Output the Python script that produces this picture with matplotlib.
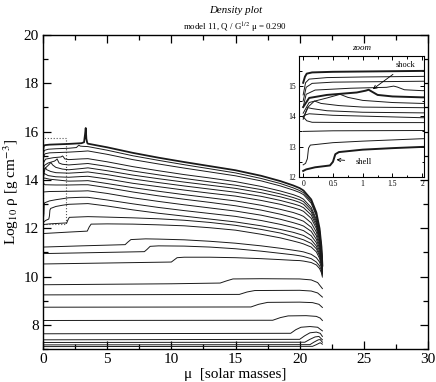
import matplotlib
matplotlib.use("Agg")
import matplotlib.pyplot as plt
from matplotlib.patches import Rectangle
from matplotlib.ticker import MultipleLocator

plt.rcParams['font.family'] = ['Liberation Serif', 'DejaVu Serif']
plt.rcParams['mathtext.fontset'] = 'stix'

# ---------------- data ----------------
# upper bundle: common outer mass grid (x >= 3.5)
xa_out = [3.5, 5, 7, 9, 11, 13, 15, 17, 18.5, 19.5, 20, 20.3, 20.9, 21.3, 21.55, 21.7, 21.77]
a_out = [
    [15.50, 15.35, 15.12, 14.92, 14.74, 14.57, 14.40, 14.17, 13.95, 13.77, 13.66, 13.56, 13.19, 12.65, 11.99, 11.22, 10.45],
    [15.38, 15.23, 15.00, 14.81, 14.63, 14.46, 14.29, 14.06, 13.85, 13.67, 13.56, 13.47, 13.10, 12.57, 11.93, 11.17, 10.42],
    [15.20, 15.06, 14.84, 14.66, 14.49, 14.33, 14.17, 13.96, 13.75, 13.58, 13.48, 13.39, 13.03, 12.51, 11.88, 11.14, 10.40],
    [14.88, 14.75, 14.55, 14.38, 14.22, 14.08, 13.93, 13.73, 13.54, 13.39, 13.29, 13.20, 12.86, 12.37, 11.77, 11.06, 10.36],
    [14.68, 14.56, 14.37, 14.21, 14.06, 13.92, 13.78, 13.60, 13.42, 13.27, 13.18, 13.10, 12.77, 12.29, 11.70, 11.02, 10.34],
    [14.50, 14.38, 14.20, 14.05, 13.91, 13.78, 13.65, 13.47, 13.30, 13.16, 13.07, 12.99, 12.67, 12.20, 11.64, 10.98, 10.32],
    [14.33, 14.22, 14.04, 13.89, 13.75, 13.62, 13.49, 13.32, 13.15, 13.01, 12.93, 12.85, 12.55, 12.10, 11.56, 10.93, 10.30],
    [14.15, 14.04, 13.86, 13.72, 13.58, 13.45, 13.33, 13.15, 12.99, 12.85, 12.77, 12.70, 12.41, 11.99, 11.48, 10.88, 10.28],
    [13.97, 13.85, 13.68, 13.53, 13.39, 13.26, 13.13, 12.95, 12.78, 12.65, 12.56, 12.49, 12.22, 11.84, 11.36, 10.81, 10.26],
    [13.80, 13.68, 13.50, 13.34, 13.20, 13.07, 12.93, 12.75, 12.58, 12.44, 12.35, 12.29, 12.04, 11.69, 11.25, 10.75, 10.24],
    [13.55, 13.44, 13.26, 13.11, 12.97, 12.84, 12.71, 12.54, 12.37, 12.23, 12.15, 12.09, 11.87, 11.54, 11.15, 10.68, 10.22],
    [13.28, 13.17, 13.01, 12.86, 12.73, 12.61, 12.49, 12.32, 12.16, 12.03, 11.95, 11.90, 11.69, 11.40, 11.04, 10.62, 10.20],
    [13.02, 12.92, 12.76, 12.62, 12.50, 12.38, 12.26, 12.10, 11.95, 11.83, 11.75, 11.70, 11.52, 11.26, 10.93, 10.56, 10.18],
]
# upper bundle: inner part (x < 3.5), visible in the zoom
a_in_x = [
    [0, 0.03, 0.06, 0.15, 0.5, 1.0, 2.0, 3.0, 3.2, 3.28, 3.33, 3.38, 3.45],
    [0, 0.04, 0.1, 0.4, 1.0, 2.0, 2.6, 2.8, 2.9, 3.1],
    [0, 0.05, 0.15, 0.5, 1.0, 2.0, 3.0],
    [0, 0.05, 0.2, 0.8, 1.4, 1.52, 1.58, 1.7, 2.0, 3.0],
    [0, 0.1, 0.4, 0.9, 1.05, 1.1, 1.25, 1.5, 2.0, 3.0],
    [0, 0.1, 0.4, 0.62, 0.75, 1.0, 1.5, 2.0, 3.0],
    [0, 0.08, 0.19, 0.3, 0.6, 1.0, 2.0, 3.0],
    [0, 0.05, 0.08, 0.15, 0.4, 1.0, 2.0, 3.0],
    [0, 0.05, 0.1, 0.5, 2.0, 3.0],
    [0, 0.06, 0.15, 1.0, 2.0, 3.0],
    [0, 0.5, 2.0, 3.0],
    [0, 0.04, 0.07, 0.09, 0.12, 0.5, 1.0, 2.0, 3.0],
    [0, 0.05, 0.2, 0.45, 0.5, 0.54, 0.6, 1.0, 1.5, 2.0, 3.0],
]
a_in_y = [
    [15.10, 15.30, 15.40, 15.44, 15.46, 15.47, 15.49, 15.52, 15.56, 15.90, 16.15, 15.70, 15.53],
    [14.70, 15.10, 15.22, 15.27, 15.29, 15.31, 15.34, 15.44, 15.40, 15.39],
    [14.50, 14.95, 15.08, 15.12, 15.13, 15.15, 15.18],
    [14.30, 14.72, 14.86, 14.92, 14.95, 14.99, 14.96, 14.87, 14.84, 14.87],
    [14.30, 14.60, 14.70, 14.78, 14.84, 14.87, 14.70, 14.65, 14.62, 14.66],
    [14.10, 14.45, 14.60, 14.72, 14.62, 14.52, 14.45, 14.42, 14.47],
    [13.95, 14.30, 14.50, 14.42, 14.35, 14.30, 14.28, 14.31],
    [13.90, 14.15, 14.28, 14.25, 14.18, 14.13, 14.11, 14.14],
    [14.00, 14.05, 14.08, 14.03, 13.95, 13.96],
    [13.98, 13.85, 13.80, 13.79, 13.79, 13.80],
    [13.50, 13.52, 13.53, 13.54],
    [12.40, 12.45, 12.60, 12.95, 13.05, 13.13, 13.18, 13.26, 13.28],
    [12.20, 12.25, 12.32, 12.38, 12.50, 12.75, 12.82, 12.90, 12.95, 12.99, 13.01],
]
thick_main = [0]
thick_zoom = [0, 4, 12]

# step ("shell") profiles
b_x = [
    [0, 0.5, 1.85, 1.95, 2.05, 3.5, 5, 7, 9, 11, 13, 15, 17, 18.5, 19.5, 20, 20.3, 20.9, 21.3, 21.55, 21.7, 21.77],
    [0, 2, 3.45, 3.6, 3.75, 5, 7, 9, 11, 13, 15, 17, 18.5, 19.5, 20, 20.3, 20.9, 21.3, 21.55, 21.7, 21.77],
    [0, 3, 6.4, 6.6, 6.85, 8, 9, 11, 13, 15, 17, 18.5, 19.5, 20, 20.3, 20.9, 21.3, 21.55, 21.7, 21.77],
    [0, 4, 7.9, 8.1, 8.35, 9, 11, 13, 15, 17, 18.5, 19.5, 20, 20.3, 20.9, 21.3, 21.55, 21.7, 21.77],
    [0, 5, 10, 10.2, 10.45, 11, 13, 15, 17, 18.5, 19.5, 20, 20.3, 20.9, 21.3, 21.55, 21.7, 21.77],
]
b_y = [
    [12.15, 12.18, 12.22, 12.35, 12.45, 12.48, 12.46, 12.43, 12.39, 12.33, 12.24, 12.12, 11.95, 11.80, 11.65, 11.57, 11.52, 11.37, 11.15, 10.85, 10.50, 10.15],
    [11.78, 11.84, 11.88, 12.05, 12.17, 12.18, 12.17, 12.14, 12.10, 12.02, 11.92, 11.75, 11.60, 11.47, 11.40, 11.35, 11.22, 11.02, 10.75, 10.42, 10.12],
    [11.22, 11.27, 11.32, 11.42, 11.53, 11.56, 11.55, 11.52, 11.46, 11.38, 11.27, 11.17, 11.09, 11.05, 11.02, 10.92, 10.78, 10.60, 10.35, 10.10],
    [10.95, 10.99, 11.03, 11.12, 11.25, 11.27, 11.26, 11.22, 11.15, 11.05, 10.96, 10.90, 10.86, 10.83, 10.74, 10.60, 10.44, 10.25, 10.05],
    [10.52, 10.56, 10.60, 10.68, 10.78, 10.80, 10.80, 10.78, 10.74, 10.70, 10.67, 10.66, 10.64, 10.58, 10.48, 10.33, 10.15, 9.98],
]

# low-density (early) profiles
c_x = [
    [0, 10, 13.8, 14.3, 14.8, 17, 20, 20.9, 21.4, 21.77],
    [0, 15.3, 15.9, 16.5, 20, 20.9, 21.4, 21.77],
    [0, 16.2, 16.8, 17.5, 20, 21, 21.5, 21.77],
    [0, 17.9, 18.5, 19.1, 20.5, 21.3, 21.6, 21.77],
    [0, 19.3, 19.7, 20.1, 20.8, 21.4, 21.77],
    [0, 20.0, 20.4, 20.8, 21.3, 21.6, 21.77],
    [0, 20.4, 20.8, 21.2, 21.5, 21.77],
    [0, 20.8, 21.1, 21.45, 21.6, 21.77],
    [0, 21.0, 21.3, 21.6, 21.77],
]
c_y = [
    [9.66, 9.70, 9.73, 9.82, 9.90, 9.91, 9.90, 9.86, 9.75, 9.50],
    [9.24, 9.26, 9.36, 9.42, 9.43, 9.40, 9.32, 9.15],
    [8.73, 8.74, 8.85, 8.93, 8.94, 8.92, 8.85, 8.72],
    [8.18, 8.19, 8.30, 8.37, 8.38, 8.35, 8.28, 8.18],
    [7.63, 7.65, 7.80, 7.90, 7.93, 7.90, 7.75],
    [7.38, 7.40, 7.55, 7.67, 7.70, 7.65, 7.52],
    [7.27, 7.28, 7.40, 7.50, 7.52, 7.38],
    [7.17, 7.18, 7.28, 7.38, 7.39, 7.28],
    [7.10, 7.11, 7.18, 7.26, 7.20],
]

x_ticks = [0, 5, 10, 15, 20, 25, 30]
y_ticks = [8, 10, 12, 14, 16, 18, 20]
zoom_box = (0.0, 12.17, 1.78, 15.75)   # x0, y0, x1, y1

# ---------------- figure ----------------
fig = plt.figure(figsize=(4.36, 3.82), dpi=100)
ax = fig.add_axes([0.0986, 0.0864, 0.8831, 0.822])

col = '#1a1a1a'
thin = 0.7
for i in range(len(a_out)):
    xs = a_in_x[i] + xa_out
    ys = a_in_y[i] + a_out[i]
    ax.plot(xs, ys, color=col, lw=1.3 if i in thick_main else thin, solid_joinstyle='round')
for xs, ys in zip(b_x, b_y):
    ax.plot(xs, ys, color=col, lw=thin)
for xs, ys in zip(c_x, c_y):
    ax.plot(xs, ys, color=col, lw=thin)

x0, y0, x1, y1 = zoom_box
ax.add_patch(Rectangle((x0, y0), x1 - x0, y1 - y0, fill=False, ls=':', lw=0.8, ec='#555555'))

ax.set_xlim(0, 30)
ax.set_ylim(7, 20)
ax.set_xticks(x_ticks)
ax.set_yticks(y_ticks)
ax.xaxis.set_minor_locator(MultipleLocator(2.5))
ax.yaxis.set_minor_locator(MultipleLocator(1))
ax.tick_params(which='both', direction='in', top=True, right=True, labelsize=11, pad=3)
ax.tick_params(which='major', length=6, width=0.9)
ax.tick_params(which='minor', length=3.5, width=0.9)
for s in ax.spines.values():
    s.set_linewidth(1.0)
ax.set_xlabel(r'μ  [solar masses]', fontsize=11, labelpad=1)
ax.set_ylabel(r'Log$_{10}$ ρ [g cm$^{-3}$]', fontsize=11, labelpad=2)

fig.text(0.54, 0.983, 'Density plot', ha='center', va='top', fontsize=7.8, style='italic')
fig.text(0.54, 0.944, r'model 11, Q / G$^{1/2}$ μ = 0.290', ha='center', va='top', fontsize=6.4)

# ---------------- zoom inset ----------------
axi = fig.add_axes([0.6858, 0.5366, 0.2867, 0.3168])
for i in range(len(a_out)):
    xs = a_in_x[i] + xa_out
    ys = a_in_y[i] + a_out[i]
    axi.plot(xs, ys, color=col, lw=1.4 if i in thick_zoom else 0.7)
axi.set_xlim(-0.07, 2.03)
axi.set_ylim(12, 15.98)
axi.set_xticks([0, 0.5, 1, 1.5, 2])
axi.set_xticklabels(['0', '0.5', '1', '1.5', '2'])
axi.set_yticks([12, 13, 14, 15])
axi.xaxis.set_minor_locator(MultipleLocator(0.25))
axi.yaxis.set_minor_locator(MultipleLocator(0.5))
axi.tick_params(which='both', direction='in', top=True, right=True, labelsize=5.5, pad=2)
axi.tick_params(which='major', length=3, width=0.7)
axi.tick_params(which='minor', length=1.8, width=0.7)
for s in axi.spines.values():
    s.set_linewidth(0.8)
axi.set_title('zoom', fontsize=6.5, style='italic', pad=4)
axi.annotate('shock', xy=(1.17, 14.89), xytext=(1.72, 15.68), fontsize=6,
             ha='center', va='center',
             arrowprops=dict(arrowstyle='->', lw=0.6, color='black', shrinkA=3, shrinkB=0))
axi.annotate('shell', xy=(0.56, 12.57), xytext=(1.02, 12.5), fontsize=6,
             ha='center', va='center',
             arrowprops=dict(arrowstyle='->', lw=0.6, color='black', shrinkA=6, shrinkB=0))

fig.savefig('out.png', dpi=100)
